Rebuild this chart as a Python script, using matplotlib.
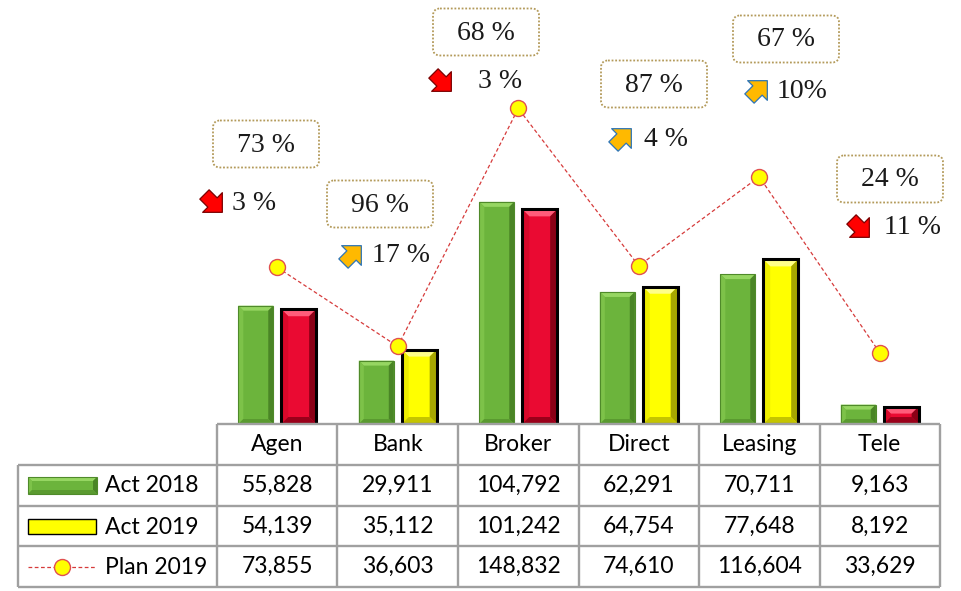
import matplotlib
matplotlib.use("Agg")
import matplotlib.pyplot as plt
from matplotlib.patches import Polygon, FancyBboxPatch, Rectangle
from matplotlib.markers import MarkerStyle
from matplotlib.path import Path
from matplotlib.transforms import Affine2D

# ---------------- data ----------------
categories = ["Agen", "Bank", "Broker", "Direct", "Leasing", "Tele"]
act_2018 = [55828, 29911, 104792, 62291, 70711, 9163]
act_2019 = [54139, 35112, 101242, 64754, 77648, 8192]
plan_2019 = [73855, 36603, 148832, 74610, 116604, 33629]
series_names = ["Act 2018", "Act 2019", "Plan 2019"]

# ---------------- layout (pixels) ----------------
W, H = 962, 591
box_centers = [(266, 144), (380, 204), (486, 32), (654, 84), (786, 39), (890, 179)]
arrow_centers = [(212, 202), (351, 255), (441, 81), (621, 138), (757, 90), (859, 227)]
change_text_x = [232, 372, 478, 644, 777, 884]
change_sep = [" ", " ", " ", " ", "", " "]

FONT_TAB = ["Lato", "DejaVu Sans"]
FONT_ANN = ["Liberation Serif", "DejaVu Serif"]

GREEN = dict(face="#6cb43c", top="#96d662", left="#7dc249", right="#4a8526",
             bottom="#5a9a30", edge="#4f8a2a", lw=0.8, bev=5)
RED = dict(face="#ea0a32", top="#ff5c7a", left="#d8082a", right="#8a0016",
           bottom="#9a001a", edge="#000000", lw=2.2, bev=7)
YELLOW = dict(face="#ffff00", top="#ffff8a", left="#eeee00", right="#a6a600",
              bottom="#c4c400", edge="#000000", lw=2.2, bev=7)

fig = plt.figure(figsize=(W / 100, H / 100), dpi=100)
fig.patch.set_facecolor("white")


def fx(px):
    return px / W


def fy(py):
    return 1 - py / H


def bevel_bar(axis, x0, x1, y0, y1, bx, by, st, z=3):
    axis.add_patch(Rectangle((x0, y0), x1 - x0, y1 - y0, facecolor=st["face"],
                             edgecolor="none", zorder=z))
    polys = [
        ([(x0, y1), (x1, y1), (x1 - bx, y1 - by), (x0 + bx, y1 - by)], st["top"]),
        ([(x0, y0), (x0, y1), (x0 + bx, y1 - by), (x0 + bx, y0 + by)], st["left"]),
        ([(x1, y0), (x1, y1), (x1 - bx, y1 - by), (x1 - bx, y0 + by)], st["right"]),
        ([(x0, y0), (x1, y0), (x1 - bx, y0 + by), (x0 + bx, y0 + by)], st["bottom"]),
    ]
    for pts, c in polys:
        axis.add_patch(Polygon(pts, closed=True, facecolor=c, edgecolor="none", zorder=z))
    axis.add_patch(Rectangle((x0, y0), x1 - x0, y1 - y0, facecolor="none",
                             edgecolor=st["edge"], linewidth=st["lw"], zorder=z + 0.5,
                             joinstyle="miter"))


# ---------------- main axes ----------------
ax = fig.add_axes([fx(217), fy(424), (940 - 217) / W, 424 / H])
ax.set_xlim(-0.5, 5.5)
ax.set_ylim(0, 200000)
ax.axis("off")

px_per_cat = (940 - 217) / 6.0
px_per_val = 424 / 200000.0

width = 0.29
off = 0.178
xs = list(range(len(categories)))
for i in xs:
    st = GREEN
    bevel_bar(ax, i - off - width / 2, i - off + width / 2, 0, act_2018[i],
              st["bev"] / px_per_cat, min(st["bev"] / px_per_val, act_2018[i] / 2.5), st)
    st = RED if act_2019[i] < act_2018[i] else YELLOW
    bevel_bar(ax, i + off - width / 2, i + off + width / 2, 0, act_2019[i],
              st["bev"] / px_per_cat, min(st["bev"] / px_per_val, act_2019[i] / 2.5), st)

ax.plot(xs, plan_2019, linestyle=(0, (3, 2)), color="#d63b3b", linewidth=0.9,
        marker="o", markersize=11.5, markerfacecolor="#ffff00",
        markeredgecolor="#e05050", markeredgewidth=1.0, zorder=6, clip_on=False)

# ---------------- table ----------------
tab = fig.add_axes([fx(18), fy(587), (940 - 18) / W, (587 - 424) / H])
xleft = -0.5 - (217 - 18) / px_per_cat
tab.set_xlim(xleft, 5.5)
tab.set_ylim(4, 0)
tab.axis("off")
gc = "#a0a0a0"
glw = 1.7
tab.plot([-0.5, 5.5], [0, 0], color=gc, lw=glw, clip_on=False, solid_capstyle="butt")
for r in range(1, 5):
    tab.plot([xleft, 5.5], [r, r], color=gc, lw=glw, clip_on=False, solid_capstyle="butt")
for c in range(7):
    tab.plot([-0.5 + c, -0.5 + c], [0, 4], color=gc, lw=glw, clip_on=False,
             solid_capstyle="butt")
tab.plot([xleft, xleft], [1, 4], color=gc, lw=glw, clip_on=False, solid_capstyle="butt")

for i, cat in enumerate(categories):
    tab.text(i, 0.5, cat, ha="center", va="center", fontsize=16.5, family=FONT_TAB,
             color="#000000")
for r, vals in enumerate([act_2018, act_2019, plan_2019]):
    for i, v in enumerate(vals):
        tab.text(i, r + 1.5, f"{v:,}", ha="center", va="center", fontsize=16.5,
                 family=FONT_TAB, color="#000000")

# ---------------- overlay (annotations & legend keys) ----------------
ov = fig.add_axes([0, 0, 1, 1])
ov.set_xlim(0, W)
ov.set_ylim(H, 0)
ov.axis("off")
ov.patch.set_alpha(0)

# legend keys
bevel_bar(ov, 28, 97, 494, 477, 4, -4, GREEN, z=3)
ov.add_patch(Rectangle((28, 519), 68, 15, facecolor="#ffff00", edgecolor="#000000",
                       linewidth=1.0, zorder=3))
ov.plot([28, 95], [567, 567], linestyle=(0, (3, 2)), color="#d63b3b", linewidth=0.9,
        zorder=3)
ov.plot([62], [567], marker="o", markersize=11.5, markerfacecolor="#ffff00",
        markeredgecolor="#e05050", markeredgewidth=1.0, zorder=4)
for r, name in enumerate(series_names):
    ov.text(105, 486 + r * 41, name, ha="left", va="center", fontsize=16.5,
            family=FONT_TAB, color="#000000")

# block arrow marker (pointing right before rotation)
arrow_verts = [(-0.45, -0.26), (0.0, -0.26), (0.0, -0.55), (0.55, 0.0), (0.0, 0.55),
               (0.0, 0.26), (-0.45, 0.26), (-0.45, -0.26)]
arrow_path = Path(arrow_verts, closed=True)

for i in xs:
    ratio = round(act_2019[i] / plan_2019[i] * 100)
    change = act_2019[i] / act_2018[i] - 1
    pct = round(abs(change) * 100)
    cx, cy = box_centers[i]
    bw, bh = 106, 47
    ov.add_patch(FancyBboxPatch((cx - bw / 2, cy - bh / 2), bw, bh,
                                boxstyle="round,pad=0,rounding_size=7",
                                facecolor="white", edgecolor="#b39a5a",
                                linewidth=1.3, linestyle=(0, (1, 1)), zorder=5))
    ov.text(cx, cy + 1, f"{ratio} %", ha="center", va="center", fontsize=20,
            family=FONT_ANN, color="#1a1a1a", zorder=6)

    ax_, ay_ = arrow_centers[i]
    if change < 0:
        mk = MarkerStyle(arrow_path, transform=Affine2D().rotate_deg(-45))
        fc, ec = "#ff0000", "#7a0000"
    else:
        mk = MarkerStyle(arrow_path, transform=Affine2D().rotate_deg(45))
        fc, ec = "#ffb900", "#2e75b6"
    ov.plot([ax_], [ay_], marker=mk, markersize=20, markerfacecolor=fc,
            markeredgecolor=ec, markeredgewidth=0.9, linestyle="none", zorder=6)
    ov.text(change_text_x[i], ay_ + 1, f"{pct}{change_sep[i]}%", ha="left",
            va="center", fontsize=20, family=FONT_ANN, color="#1a1a1a", zorder=6)

fig.savefig("out.png", dpi=100, facecolor="white")
